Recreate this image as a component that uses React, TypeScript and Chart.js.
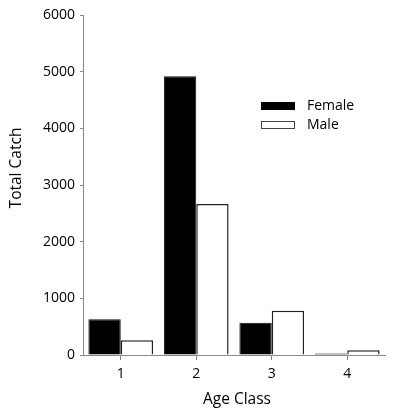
import React, { useEffect, useRef } from "react";
import { Chart, registerables } from "chart.js";

Chart.register(...registerables);

const categories = ["1", "2", "3", "4"];
const femaleValues = [630, 4920, 570, 25];
const maleValues = [260, 2665, 780, 85];
const yTicks = [0, 1000, 2000, 3000, 4000, 5000, 6000];

const FONT = "'Open Sans', 'DejaVu Sans', sans-serif";

const overlayPlugin = {
  id: "overlay",
  afterDraw(chart: any) {
    const ctx = chart.ctx;
    const area = chart.chartArea;
    ctx.save();
    ctx.fillStyle = "#000";
    ctx.font = `15.5px ${FONT}`;
    // y title
    ctx.save();
    ctx.translate(17, 168);
    ctx.rotate(-Math.PI / 2);
    ctx.textAlign = "center";
    ctx.textBaseline = "middle";
    ctx.fillText("Total Catch", 0, 0);
    ctx.restore();
    // x title
    ctx.textAlign = "center";
    ctx.textBaseline = "middle";
    ctx.fillText("Age Class", 237, 400);
    // legend
    ctx.font = `14px ${FONT}`;
    const ds = chart.data.datasets;
    const lx = 261;
    const rows = [102, 121];
    ds.forEach((d: any, i: number) => {
      const y = rows[i];
      ctx.fillStyle = d.backgroundColor;
      ctx.fillRect(lx, y, 34, 8);
      ctx.lineWidth = 1;
      ctx.strokeStyle = i === 0 ? "#000" : "#444";
      ctx.strokeRect(lx + 0.5, y + 0.5, 33, 7);
      ctx.fillStyle = "#000";
      ctx.textAlign = "left";
      ctx.textBaseline = "middle";
      ctx.fillText(d.label, 307, y + 4);
    });
    ctx.restore();
  },
};

export default function App() {
  const ref = useRef<HTMLCanvasElement | null>(null);
  useEffect(() => {
    document.body.style.margin = "0";
    const canvas = ref.current!;
    const chart = new Chart(canvas, {
      type: "bar",
      data: {
        labels: categories,
        datasets: [
          {
            label: "Female",
            data: femaleValues,
            backgroundColor: "#000",
            borderColor: "#111",
            borderWidth: 1,
            categoryPercentage: 0.857,
            barPercentage: 1,
          },
          {
            label: "Male",
            data: maleValues,
            backgroundColor: "#fff",
            borderColor: "#222",
            borderWidth: 1.5,
            categoryPercentage: 0.857,
            barPercentage: 1,
          },
        ],
      },
      options: {
        animation: false,
        responsive: false,
        layout: { padding: { top: 15, right: 8, left: 0, bottom: 0 } },
        plugins: {
          legend: { display: false },
          tooltip: { enabled: false },
        },
        scales: {
          x: {
            grid: {
              offset: false,
              drawOnChartArea: false,
              drawTicks: true,
              tickLength: 5,
              color: "#888",
            },
            border: { color: "#888", width: 1 },
            ticks: {
              color: "#000",
              font: { family: FONT, size: 14 },
              padding: 6,
            },
            afterFit(scale: any) {
              scale.height = 62;
            },
          },
          y: {
            min: 0,
            max: 6000,
            afterBuildTicks(scale: any) {
              scale.ticks = yTicks.map((v) => ({ value: v }));
            },
            grid: {
              drawOnChartArea: false,
              drawTicks: true,
              tickLength: 3,
              color: "#888",
            },
            border: { color: "#888", width: 1 },
            ticks: {
              color: "#000",
              font: { family: FONT, size: 14 },
              padding: 5,
              callback: (v: any) => String(v),
            },
            afterFit(scale: any) {
              scale.width = 83;
            },
          },
        },
      },
      plugins: [overlayPlugin],
    });
    return () => chart.destroy();
  }, []);
  return (
    <div style={{ width: 393, height: 417 }}>
      <canvas ref={ref} width={393} height={417} style={{ display: "block" }} />
    </div>
  );
}
